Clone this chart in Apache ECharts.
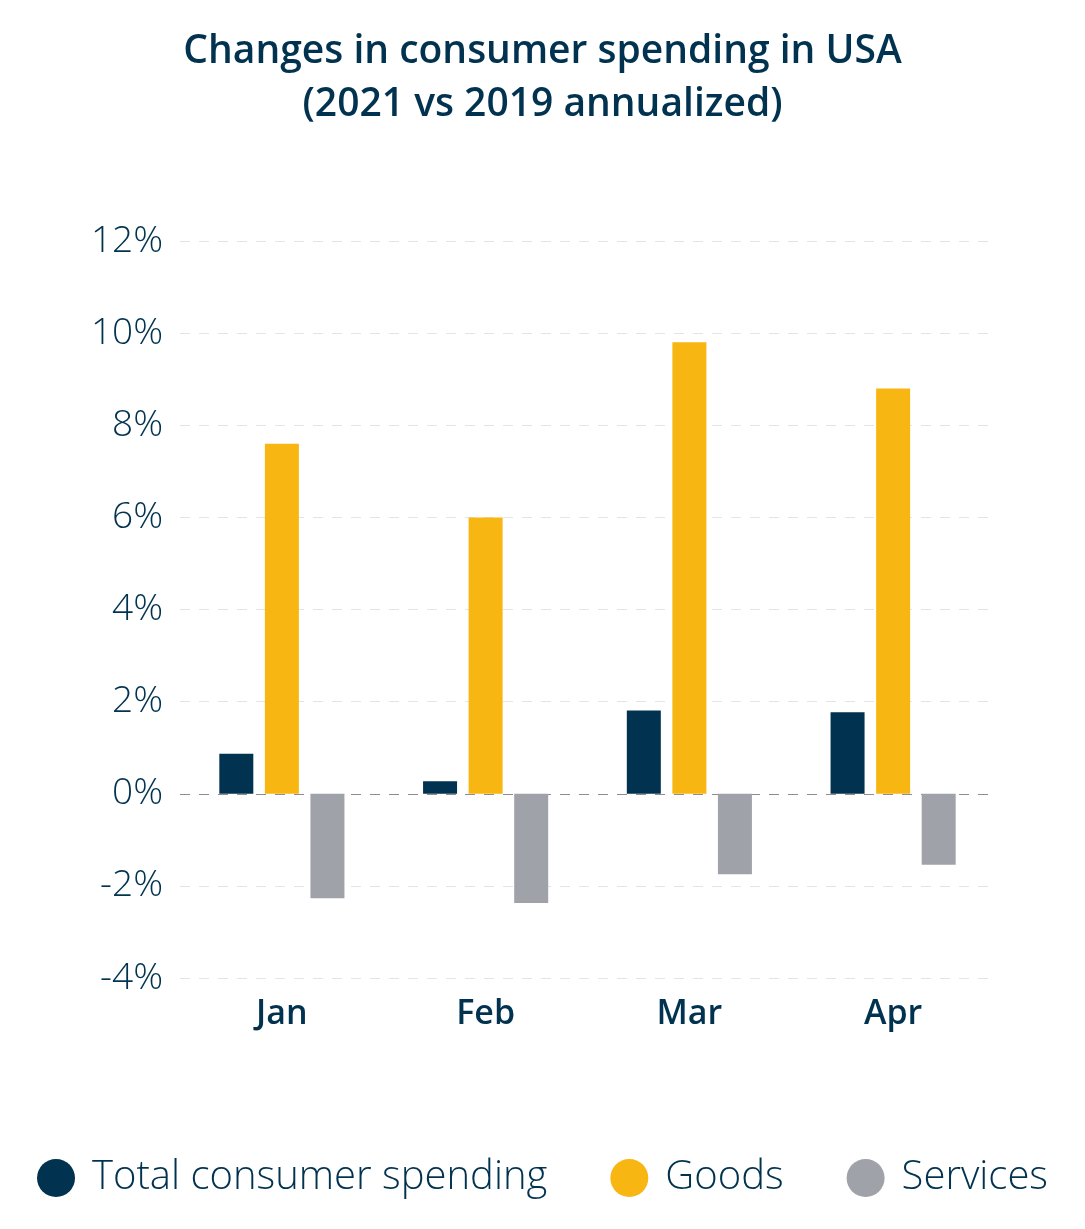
<!DOCTYPE html>
<html>
<head>
<meta charset="utf-8">
<script src="https://cdn.jsdelivr.net/npm/echarts@6/dist/echarts.min.js"></script>
<style>
html,body{margin:0;padding:0;background:#fff;}
#chart{width:1085px;height:1229px;}
</style>
</head>
<body>
<div id="chart"></div>
<script>
const categories = ['Jan', 'Feb', 'Mar', 'Apr'];
const totalSpending = [0.87, 0.27, 1.81, 1.77];
const goods = [7.6, 6.0, 9.8, 8.8];
const services = [-2.27, -2.37, -1.75, -1.54];
const seriesNames = ['Total consumer spending', 'Goods', 'Services'];
const yMin = -4, yMax = 12, yStep = 2;

const navy = '#01324f';
const FONT = '"Open Sans"';
const gridColors = [];
for (let v = yMin; v <= yMax; v += yStep) gridColors.push(v === 0 ? '#8d8d8d' : '#e4e4e4');

const chart = echarts.init(document.getElementById('chart'));
chart.setOption({
  backgroundColor: '#ffffff',
  animation: false,
  title: {
    text: 'Changes in consumer spending in USA\n(2021 vs 2019 annualized)',
    left: 'center',
    top: 20,
    textStyle: {
      color: navy,
      fontFamily: FONT,
      fontSize: 39,
      fontWeight: 600,
      lineHeight: 53
    }
  },
  legend: {
    bottom: 26,
    left: 'center',
    icon: 'circle',
    itemWidth: 38,
    itemHeight: 38,
    itemGap: 63,
    textStyle: {
      color: navy,
      fontFamily: FONT,
      fontSize: 40,
      fontWeight: 300,
      padding: [0, 0, 0, 12]
    },
    data: seriesNames
  },
  grid: {
    left: 180,
    right: 90,
    top: 241,
    bottom: 251,
    containLabel: false
  },
  xAxis: {
    type: 'category',
    data: categories,
    axisLine: { show: false },
    axisTick: { show: false },
    axisLabel: {
      color: navy,
      fontFamily: FONT,
      fontSize: 34,
      fontWeight: 600,
      margin: 19
    }
  },
  yAxis: {
    type: 'value',
    min: yMin,
    max: yMax,
    interval: yStep,
    axisLine: { show: false },
    axisTick: { show: false },
    axisLabel: {
      color: navy,
      fontFamily: FONT,
      fontSize: 37,
      fontWeight: 300,
      margin: 17,
      formatter: v => v + '%'
    },
    splitLine: {
      show: true,
      lineStyle: { color: gridColors, type: [10, 9], width: 1.2 }
    }
  },
  series: [
    { name: seriesNames[0], type: 'bar', data: totalSpending, barWidth: 34, barGap: '34%', itemStyle: { color: '#01324f' } },
    { name: seriesNames[1], type: 'bar', data: goods, barWidth: 34, barGap: '34%', itemStyle: { color: '#f7b612' } },
    { name: seriesNames[2], type: 'bar', data: services, barWidth: 34, barGap: '34%', itemStyle: { color: '#a0a2aa' } }
  ]
});
</script>
</body>
</html>
